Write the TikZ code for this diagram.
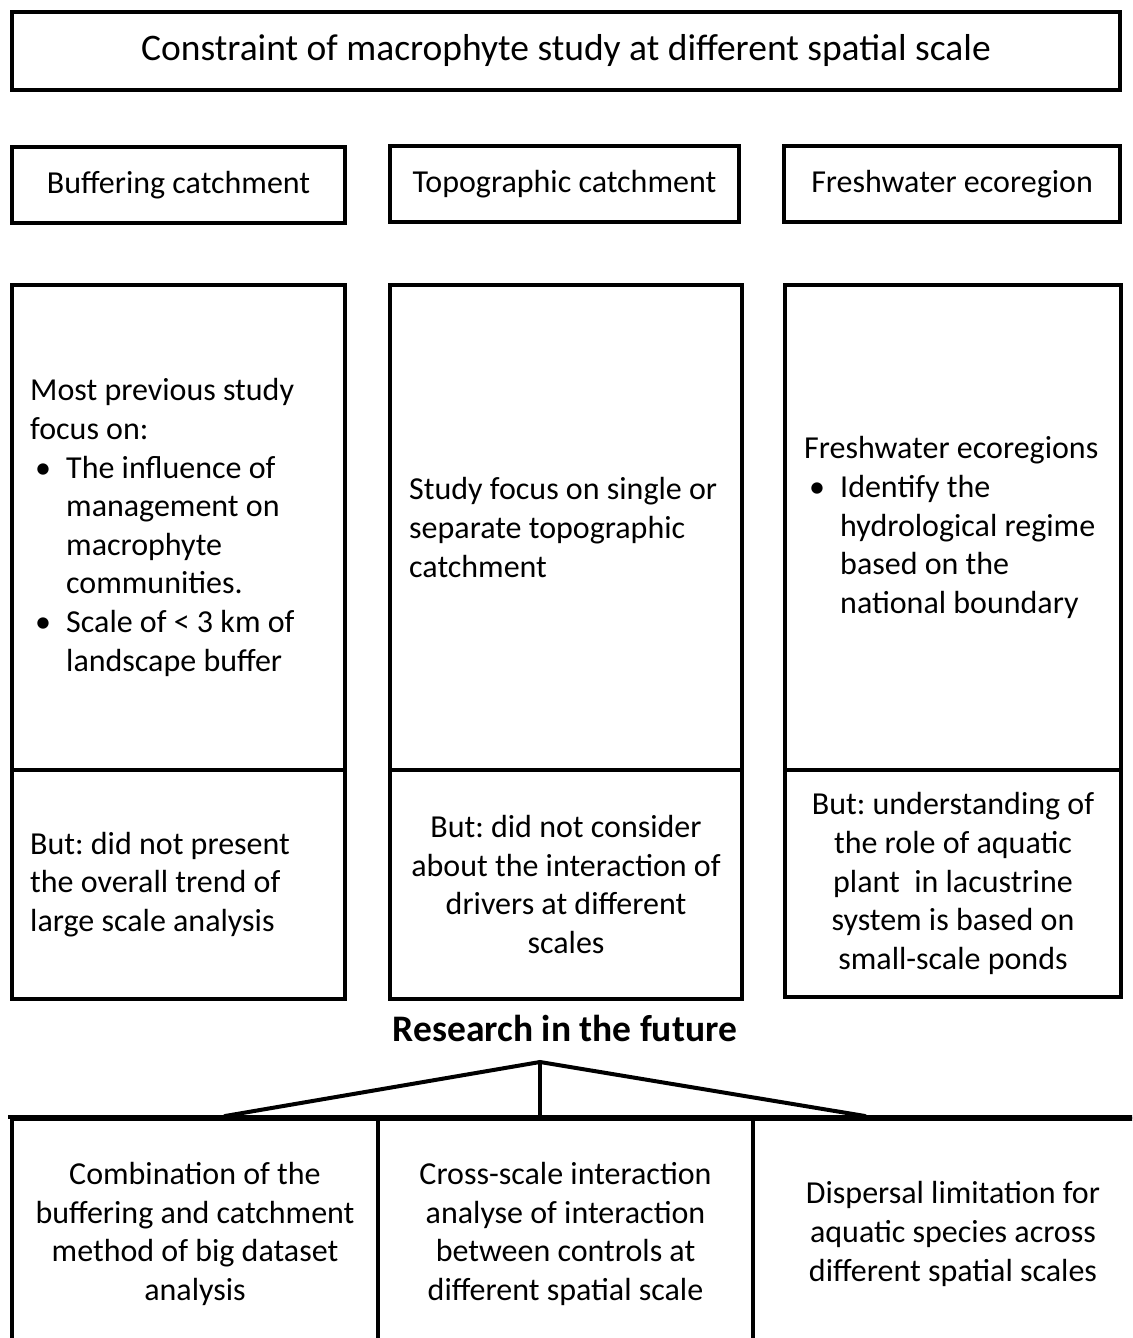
\documentclass[tikz,border=0pt]{standalone}
\usepackage{fontspec}
\setmainfont{Carlito}
\frenchspacing
\begin{document}
\begin{tikzpicture}[x=1pt,y=-1pt,
  frame/.style={draw=black, line width=4pt, rectangle, inner sep=0pt, anchor=north west},
  txt/.style={inner sep=0pt, font=\fontsize{32}{38.6}\selectfont\frenchspacing},
  bigtxt/.style={inner sep=0pt, font=\fontsize{37.5}{45}\selectfont\frenchspacing},
  ltxt/.style={txt, align=left, anchor=west},
  ctxt/.style={txt, align=center},
  link/.style={draw=black, line width=4pt}]
\useasboundingbox (0,0) rectangle (1132,1338);
\clip (0,0) rectangle (1132,1338);

\newcommand{\bulletmark}{\makebox[36pt][l]{\hspace{5pt}\textbullet}}
\newcommand{\hangline}{\hspace*{36pt}}

% title
\node[frame, minimum width=1108pt, minimum height=78pt] (title) at (10,10) {};
\node[bigtxt] (titletext) at (title.center) {Constraint of macrophyte study at different spatial scale};

% scale headers
\node[frame, minimum width=333pt, minimum height=76pt] (h1) at (10,145) {};
\node[frame, minimum width=349pt, minimum height=76pt] (h2) at (388,144) {};
\node[frame, minimum width=336pt, minimum height=76pt] (h3) at (782,144) {};
\node[txt] (h1text) at (h1.center) {Buffering catchment};
\node[txt] (h2text) at (h2.center) {Topographic catchment};
\node[txt] (h3text) at (h3.center) {Freshwater ecoregion};

% upper description boxes
\node[frame, minimum width=333pt, minimum height=485pt] (t1) at (10,283) {};
\node[frame, minimum width=352pt, minimum height=485pt] (t2) at (388,283) {};
\node[frame, minimum width=336pt, minimum height=485pt] (t3) at (783,283) {};

\node[ltxt] (t1text) at ([xshift=20pt]t1.west) {Most previous study\\ focus on:\\
\bulletmark The influence of\\ \hangline management on\\ \hangline macrophyte\\ \hangline communities.\\
\bulletmark Scale of < 3 km of\\ \hangline landscape buffer};
\node[ltxt] (t2text) at ([xshift=21pt]t2.west) {Study focus on single or\\ separate topographic\\ catchment};
\node[ltxt] (t3text) at ([xshift=21pt]t3.west) {Freshwater ecoregions\\
\bulletmark Identify the\\ \hangline hydrological regime\\ \hangline based on the\\ \hangline national boundary};

% lower limitation boxes
\node[frame, minimum width=333pt, minimum height=229pt] (b1) at (10,768) {};
\node[frame, minimum width=352pt, minimum height=229pt] (b2) at (388,768) {};
\node[frame, minimum width=336pt, minimum height=227pt] (b3) at (783,768) {};

\node[ltxt] (b1text) at ([xshift=20pt]b1.west) {But: did not present\\ the overall trend of\\ large scale analysis};
\node[ctxt] (b2text) at (b2.center) {But: did not consider\\ about the interaction of\\ drivers at different\\ scales};
\node[ctxt] (b3text) at (b3.center) {But: understanding of\\ the role of aquatic\\ plant~ in lacustrine\\ system is based on\\ small-scale ponds};

% future research
\node[bigtxt, font=\fontsize{37.5}{45}\selectfont\bfseries] (future) at (565,1028) {Research in the future};

\coordinate (apex) at (540,1062);
\coordinate (legL) at (225,1116);
\coordinate (legM) at (540,1116);
\coordinate (legR) at (865,1116);
\coordinate (barL) at (8,1117);
\coordinate (barR) at (1140,1117);

\node[frame, minimum width=366pt, minimum height=230pt] (f1) at (10,1117) {};
\node[frame, minimum width=375pt, minimum height=230pt] (f2) at (376,1117) {};
\node[frame, minimum width=400pt, minimum height=230pt] (f3) at (751,1117) {};
\draw[link] (barL) -- (barR);
\draw[link, line cap=round] (legL) -- (apex) -- (legR);
\draw[draw=black, line width=3.5pt] (apex) -- (legM);

\node[ctxt] (f1text) at (f1.center) {Combination of the\\ buffering and catchment\\ method of big dataset\\ analysis};
\node[ctxt] (f2text) at (f2.center) {Cross-scale interaction\\ analyse of interaction\\ between controls at\\ different spatial scale};
\node[ctxt] (f3text) at (f3.center) {Dispersal limitation for\\ aquatic species across\\ different spatial scales};
\end{tikzpicture}
\end{document}
